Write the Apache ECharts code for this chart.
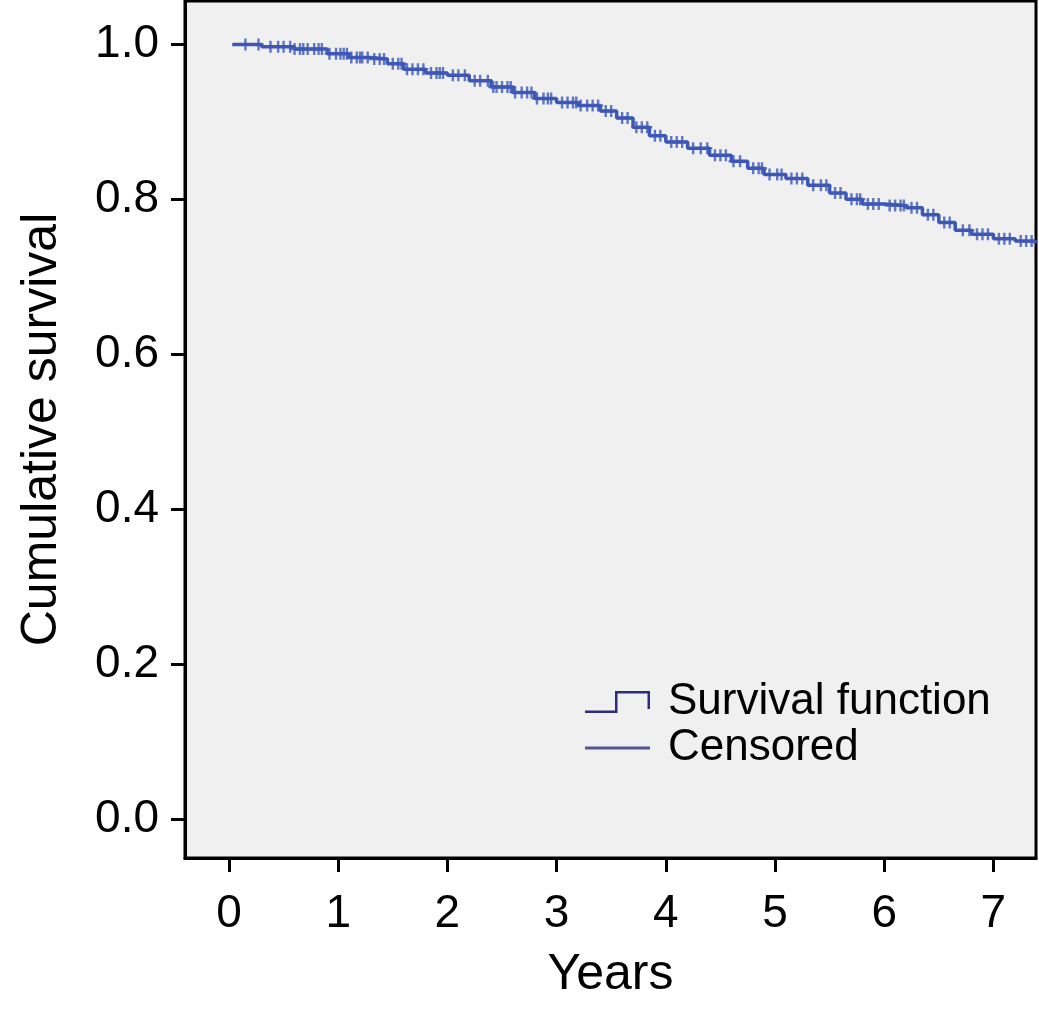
<!DOCTYPE html>
<html>
<head>
<meta charset="utf-8">
<script src="https://cdn.jsdelivr.net/npm/echarts@6/dist/echarts.min.js"></script>
<style>
html,body{margin:0;padding:0;background:#fff;}
#chart{width:1039px;height:1024px;}
</style>
</head>
<body>
<div id="chart"></div>
<script>
// Kaplan-Meier step points: [years, cumulative survival]
const stepTimes = [0.03,0.3,0.6,0.9,1.1,1.3,1.45,1.6,1.8,2.0,2.2,2.4,2.6,2.8,3.0,3.2,3.4,3.55,3.7,3.85,4.0,4.2,4.4,4.6,4.75,4.9,5.1,5.3,5.5,5.65,5.8,6.0,6.2,6.35,6.5,6.65,6.8,7.0,7.2,7.38];
const stepSurv  = [1.000,0.997,0.994,0.988,0.983,0.981,0.975,0.968,0.963,0.960,0.953,0.945,0.938,0.930,0.925,0.921,0.914,0.905,0.893,0.882,0.874,0.866,0.857,0.849,0.840,0.832,0.827,0.818,0.808,0.800,0.794,0.792,0.789,0.780,0.770,0.760,0.755,0.749,0.746,0.743];
// censored observation times (years)
const censorTimes = [0.15,0.27,0.38,0.45,0.5,0.56,0.6,0.65,0.68,0.72,0.78,0.82,0.85,0.92,0.98,1.02,1.05,1.08,1.12,1.17,1.2,1.22,1.27,1.33,1.38,1.42,1.5,1.55,1.58,1.63,1.68,1.73,1.78,1.85,1.9,1.93,1.96,2.05,2.1,2.16,2.25,2.3,2.37,2.42,2.45,2.5,2.55,2.58,2.62,2.68,2.73,2.77,2.82,2.88,2.92,2.95,3.05,3.1,3.15,3.18,3.22,3.28,3.33,3.38,3.45,3.5,3.6,3.65,3.73,3.78,3.83,3.9,3.95,4.05,4.1,4.15,4.25,4.32,4.38,4.45,4.5,4.55,4.62,4.68,4.8,4.85,4.88,4.95,5.02,5.06,5.15,5.2,5.25,5.35,5.42,5.47,5.55,5.6,5.7,5.75,5.78,5.85,5.9,5.95,6.05,6.1,6.15,6.18,6.25,6.3,6.4,6.45,6.55,6.6,6.72,6.78,6.85,6.9,6.95,7.05,7.1,7.15,7.25,7.3,7.35];
const xTicks = [0,1,2,3,4,5,6,7];
const yTicks = [0,0.2,0.4,0.6,0.8,1.0];

const curveColor = '#3c57b7';
const legendColor = '#2f2c7e';
const fontFam = '"Liberation Sans Narrow","Arial Narrow","Liberation Sans",Arial,sans-serif';

const stepData = stepTimes.map((t,i)=>[t, stepSurv[i]]);
function survAt(t){
  let s = stepSurv[0];
  for (let i=0;i<stepTimes.length;i++){ if (stepTimes[i] <= t) s = stepSurv[i]; }
  return s;
}
const censorData = censorTimes.map(t=>[t, survAt(t)]);

const plusPath = 'path://M3.8,0 L6.2,0 L6.2,4.8 L10,4.8 L10,7.2 L6.2,7.2 L6.2,12 L3.8,12 L3.8,7.2 L0,7.2 L0,4.8 L3.8,4.8 Z';
const stepIcon = 'path://M0,19.5 L30,19.5 L30,0 L65,0 L65,18 L62.5,18 L62.5,2.5 L32.5,2.5 L32.5,22 L0,22 Z';

const chart = echarts.init(document.getElementById('chart'));
chart.setOption({
  animation:false,
  backgroundColor:'#ffffff',
  grid:{left:185,right:3,top:1,bottom:166,show:true,backgroundColor:'#f0f0f0',borderColor:'#000',borderWidth:3},
  xAxis:{
    type:'value',min:-0.403,max:7.39,
    name:'Years',nameLocation:'middle',nameGap:92,
    nameTextStyle:{fontFamily:fontFam,fontSize:50,color:'#000'},
    axisLine:{show:true,onZero:false,lineStyle:{color:'#000',width:3}},
    axisTick:{show:true,length:14,lineStyle:{color:'#000',width:3},customValues:xTicks},
    axisLabel:{fontFamily:fontFam,fontSize:46,color:'#000',margin:33,customValues:xTicks},
    splitLine:{show:false}
  },
  yAxis:{
    type:'value',min:-0.0504,max:1.056,
    name:'Cumulative survival',nameLocation:'middle',nameGap:118,
    nameTextStyle:{fontFamily:fontFam,fontSize:50,color:'#000'},
    axisLine:{show:true,onZero:false,lineStyle:{color:'#000',width:3}},
    axisTick:{show:true,length:14,lineStyle:{color:'#000',width:3},customValues:yTicks},
    axisLabel:{fontFamily:fontFam,fontSize:46,color:'#000',margin:26,customValues:yTicks,formatter:v=>v.toFixed(1)},
    splitLine:{show:false}
  },
  legend:[
    {left:585,top:680,padding:0,orient:'vertical',itemWidth:65,itemHeight:22,icon:stepIcon,
     textStyle:{fontFamily:fontFam,fontSize:44,color:'#000',padding:[0,0,0,13]},
     data:[{name:'Survival function',itemStyle:{color:legendColor}}]},
    {left:585,top:726,padding:0,orient:'vertical',itemWidth:65,itemHeight:3,icon:'rect',
     textStyle:{fontFamily:fontFam,fontSize:44,color:'#000',padding:[0,0,0,13]},
     data:[{name:'Censored',itemStyle:{color:legendColor}}]}
  ],
  series:[
    {name:'Survival function',type:'line',step:'end',data:stepData,showSymbol:false,
     lineStyle:{color:curveColor,width:3.5},itemStyle:{color:curveColor},silent:true},
    {name:'Censored',type:'scatter',data:censorData,symbol:plusPath,symbolSize:[10,12],
     itemStyle:{color:curveColor},silent:true}
  ]
});
</script>
</body>
</html>
